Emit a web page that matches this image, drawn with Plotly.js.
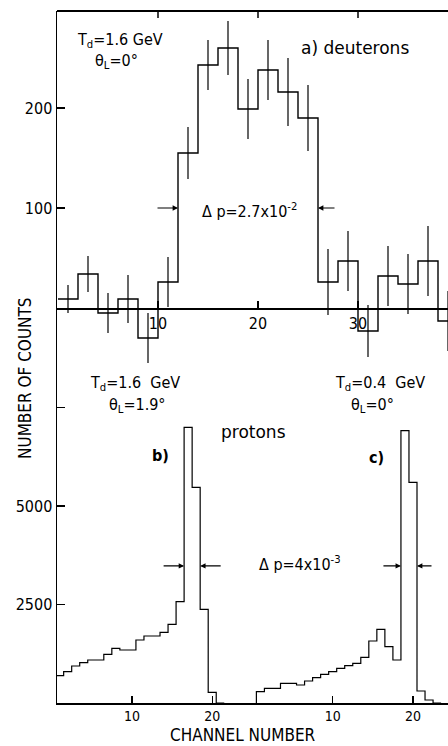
<!DOCTYPE html>
<html><head><meta charset="utf-8">
<script src="https://cdn.plot.ly/plotly-3.0.1.min.js"></script>
<style>html,body{margin:0;padding:0;background:#fff}#chart{width:448px;height:746px}</style>
</head><body><div id="chart"></div>
<script>
// ---- a) deuterons, Td=1.6 GeV, theta_L=0 deg (2-channel bins) ----
const deutChannels = [1,3,5,7,9,11,13,15,17,19,21,23,25,27,29,31,33,35,37,39];
const deutCounts   = [9,34,-5,9,-30,26,155,243,260,199,238,216,190,26,47,-23,32,24,47,-13];
const deutErrors   = [14,18,20,24,25,25,26,25,27,30,30,34,33,33,30,26,30,30,35,30];
const deutBinWidth = 2;

// ---- b) protons, Td=1.6 GeV, theta_L=1.9 deg (1-channel bins) ----
const protBChannels = [1,2,3,4,5,6,7,8,9,10,11,12,13,14,15,16,17,18,19,20,21];
const protBCounts   = [693,795,939,1023,1091,1091,1236,1388,1345,1345,1599,1700,1700,1794,1997,2571,6997,5475,2378,272,0];

// ---- c) protons, Td=0.4 GeV, theta_L=0 deg (1-channel bins) ----
const protCChannels = [1,2,3,4,5,6,7,8,9,10,11,12,13,14,15,16,17,18,19,20,21,22,23];
const protCCounts   = [288,372,372,499,499,457,558,643,728,795,880,948,1007,1159,1574,1870,1430,1091,6912,5600,305,76,0];
const protBinWidth = 1;

// tick labels
const topTickVals = [10,20,30];
const topYTickVals = [100,200];
const lowYTickVals = [2500,5000,7500];
const lowYTickText = ['2500','5000',''];
const panelCOffset = 25;           // panel c drawn on the shared lower axis shifted by 25 channels
const lowXTickVals = [10,20,10+panelCOffset,20+panelCOffset];
const lowXTickText = ['10','20','10','20'];

const FONT = '"DejaVu Sans Condensed","Liberation Sans Narrow","DejaVu Sans",sans-serif';
const FONTW = '"DejaVu Sans","Liberation Sans",sans-serif';

function stepLine(centers, vals, w, offset, fromZero){
  const xs=[], ys=[];
  if(fromZero){ xs.push(centers[0]-w/2+offset); ys.push(0); }
  centers.forEach((c,i)=>{ xs.push(c-w/2+offset, c+w/2+offset); ys.push(vals[i], vals[i]); });
  return {x:xs, y:ys};
}

const dA = stepLine(deutChannels, deutCounts, deutBinWidth, 0, false);
const dB = stepLine(protBChannels, protBCounts, protBinWidth, 0, true);
const dC = stepLine(protCChannels, protCCounts, protBinWidth, panelCOffset, true);

const traces = [
  {x:dA.x, y:dA.y, xaxis:'x2', yaxis:'y', mode:'lines', line:{color:'#000', width:1.4}, hoverinfo:'skip', showlegend:false},
  {x:deutChannels, y:deutCounts, xaxis:'x2', yaxis:'y', mode:'markers',
   marker:{size:1, color:'rgba(0,0,0,0)'},
   error_y:{type:'data', array:deutErrors, visible:true, width:0, thickness:1.2, color:'#000'},
   hoverinfo:'skip', showlegend:false},
  {x:dB.x, y:dB.y, xaxis:'x', yaxis:'y2', mode:'lines', line:{color:'#000', width:1.2}, hoverinfo:'skip', showlegend:false},
  {x:dC.x, y:dC.y, xaxis:'x', yaxis:'y2', mode:'lines', line:{color:'#000', width:1.2}, hoverinfo:'skip', showlegend:false}
];

// plot area: x 57..448, y 11..703
const L=57, R=448, T=11, B=703;
const px = v => (v-L)/(R-L);
const py = v => (B-v)/(B-T);
const split = py(370);

function txt(text, x, y, size, extra, fam){
  return Object.assign({text:text, xref:'paper', yref:'paper', x:px(x), y:py(y),
    xanchor:'center', yanchor:'middle', showarrow:false,
    font:{family:fam||FONT, size:size, color:'#000'}}, extra||{});
}
function arrow(xref, yref, x, y, ax){
  return {text:'', xref:xref, yref:yref, x:x, y:y, ax:ax, ay:0, showarrow:true,
    arrowhead:2, arrowsize:0.9, arrowwidth:1.2, arrowcolor:'#000', standoff:0};
}

const axisCommon = {showline:true, linecolor:'#000', linewidth:1.5, showgrid:false, zeroline:false,
  ticks:'inside', tickcolor:'#000', tickwidth:1.3, fixedrange:true};

// top frame line (paper) and inward ticks at the top-panel tick values
const frameShapes = [{type:'line', layer:'above', xref:'paper', yref:'paper', x0:0, x1:1, y0:1, y1:1,
  line:{color:'#000', width:2}}];
const tickShapes = topTickVals.map(v => ({type:'line', layer:'above', xref:'x2', yref:'paper', x0:v, x1:v, y0:1, y1:1-7/(B-T),
    line:{color:'#000', width:1.5}}));

const layout = {
  width:448, height:746,
  margin:{l:L, r:448-R, t:T, b:746-B},
  paper_bgcolor:'#fff', plot_bgcolor:'rgba(0,0,0,0)',
  font:{family:FONT, color:'#000'},
  showlegend:false,
  xaxis: Object.assign({}, axisCommon, {domain:[0,1], range:[0.672,49.36], anchor:'y2',
    tickvals:lowXTickVals, ticktext:lowXTickText, ticklen:7, tickfont:{size:14, family:FONT}}),
  xaxis2: Object.assign({}, axisCommon, {domain:[0,1], range:[-0.1,39.0], anchor:'free', position:py(308),
    tickvals:topTickVals, ticklen:7, tickfont:{size:16, family:FONT}}),
  yaxis: Object.assign({}, axisCommon, {domain:[split,1], range:[-62,297], anchor:'x2',
    tickvals:topYTickVals, ticklen:8, tickfont:{size:16, family:FONT}}),
  yaxis2: Object.assign({}, axisCommon, {domain:[0,split], range:[0,8452], anchor:'x',
    tickvals:lowYTickVals, ticktext:lowYTickText, ticklen:8, tickfont:{size:16, family:FONT}}),
  shapes: frameShapes.concat(tickShapes),
  annotations: [
    txt('T<sub>d</sub>=1.6 GeV', 120, 40, 16),
    txt('θ<sub>L</sub>=0°', 116, 62, 16),
    txt('a) deuterons', 355, 48, 17, null, FONTW),
    txt('Δ p=2.7x10<sup>-2</sup>', 249, 210, 16),
    txt('T<sub>d</sub>=1.6  GeV', 135, 383, 16),
    txt('θ<sub>L</sub>=1.9°', 137, 405, 16),
    txt('<b>b)</b>', 160, 455, 16),
    txt('protons', 253, 432, 17, null, FONTW),
    txt('T<sub>d</sub>=0.4  GeV', 380, 383, 16),
    txt('θ<sub>L</sub>=0°', 372, 405, 16),
    txt('<b>c)</b>', 376, 457, 16),
    txt('Δ p=4x10<sup>-3</sup>', 300, 563, 16),
    txt('NUMBER OF COUNTS', 25, 378, 17, {textangle:-90}),
    txt('CHANNEL NUMBER', 243, 735, 17),
    arrow('x2','y', 12, 100, -22),
    arrow('x2','y', 26, 100, 18),
    arrow('x','y2', 16.5, 3480, -22),
    arrow('x','y2', 18.5, 3480, 22),
    arrow('x','y2', 18.5+panelCOffset, 3480, -19),
    arrow('x','y2', 20.5+panelCOffset, 3480, 16)
  ]
};

Plotly.newPlot('chart', traces, layout, {staticPlot:true, displayModeBar:false});
</script></body></html>
